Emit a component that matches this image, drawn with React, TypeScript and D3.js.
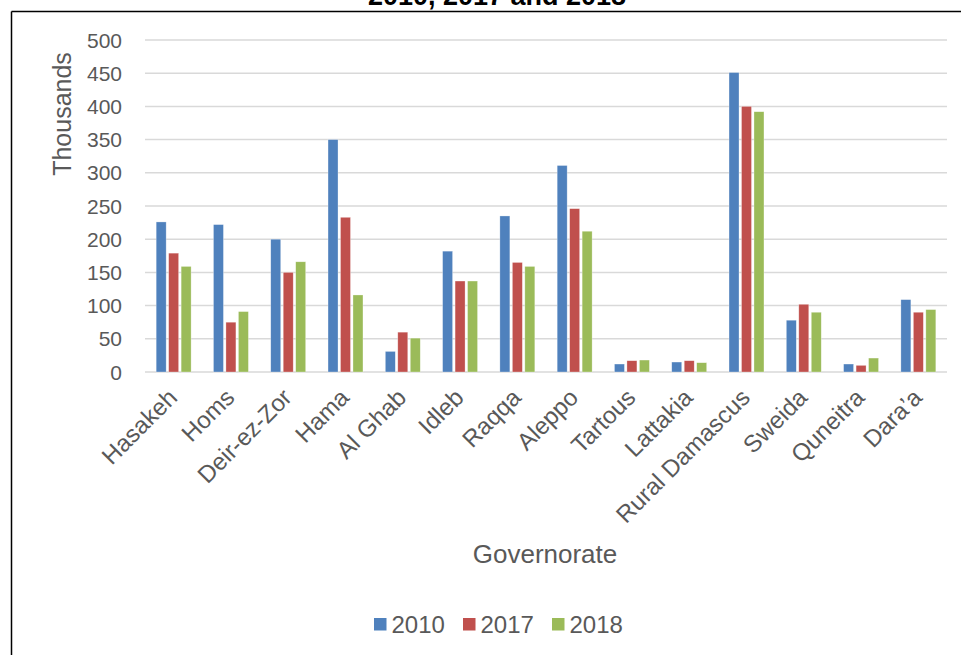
import React from "react";
import * as d3 from "d3";

const categories = ["Hasakeh", "Homs", "Deir-ez-Zor", "Hama", "Al Ghab", "Idleb", "Raqqa", "Aleppo", "Tartous", "Lattakia", "Rural Damascus", "Sweida", "Quneitra", "Dara\u2019a"];
const seriesNames = ["2010", "2017", "2018"];
const values2010 = [226, 222, 200, 350, 31, 182, 235, 311, 12, 15, 451, 78, 12, 109];
const values2017 = [179, 75, 150, 233, 60, 137, 165, 246, 17, 17, 400, 102, 10, 90];
const values2018 = [159, 91, 166, 116, 51, 137, 159, 212, 18, 14, 392, 90, 21, 94];
const yTicks = [0, 50, 100, 150, 200, 250, 300, 350, 400, 450, 500];
const colors = ["#4f81bd", "#c0504d", "#9bbb59"];
const titleLine = "2010, 2017 and 2018";
const yLabel = "Thousands";
const xLabel = "Governorate";

export default function App() {
  const W = 961, H = 655;
  const left = 145, right = 947, top = 40, bottom = 372;
  const x0 = d3.scaleBand<string>().domain(categories).range([left, right]).padding(0);
  const groupW = x0.bandwidth() * 0.61;
  const x1 = d3.scaleBand<string>().domain(seriesNames).range([0, groupW]).paddingInner(0.2).paddingOuter(0);
  const y = d3.scaleLinear().domain([0, 500]).range([bottom, top]);
  const series = [values2010, values2017, values2018];
  const font = "'Liberation Sans', Arial, sans-serif";
  const textColor = "#595959";

  return (
    <>
      <style>{`html,body{margin:0;padding:0;overflow:hidden;background:#fff}`}</style>
      <svg width={W} height={H} style={{ display: "block", overflow: "hidden" }} fontFamily={font}>
        <rect x={0} y={0} width={W} height={H} fill="#fff" />
        <text x={497} y={5} textAnchor="middle" fontWeight="bold" fontSize={27} fill="#000">{titleLine}</text>
        <line x1={11.5} x2={W} y1={11.5} y2={11.5} stroke="#000" strokeWidth={1.5} />
        <line x1={11.5} x2={11.5} y1={11.5} y2={H} stroke="#000" strokeWidth={1.5} />
        {yTicks.map((t) => (
          <g key={t}>
            <line x1={left} x2={right} y1={y(t)} y2={y(t)} stroke="#d9d9d9" strokeWidth={1.5} />
            <text x={122} y={y(t)} dy="0.36em" textAnchor="end" fontSize={21} fill={textColor}>{t}</text>
          </g>
        ))}
        {categories.map((c, i) => (
          <g key={c}>
            {series.map((vals, s) => {
              const bx = (x0(c) as number) + (x0.bandwidth() - groupW) / 2 + (x1(seriesNames[s]) as number);
              return (
                <rect key={s} x={bx} y={y(vals[i])} width={x1.bandwidth()} height={y(0) - y(vals[i])} fill={colors[s]} stroke="#ffffff" strokeOpacity={0.5} strokeWidth={0.6} />
              );
            })}
            <text transform={`translate(${(x0(c) as number) + x0.bandwidth() / 2 + 5},${399}) rotate(-45)`} textAnchor="end" fontSize={24} fill={textColor}>{c}</text>
          </g>
        ))}
        <text transform={`translate(71,114) rotate(-90)`} textAnchor="middle" fontSize={25} fill={textColor}>{yLabel}</text>
        <text x={545} y={563} textAnchor="middle" fontSize={26} fill={textColor}>{xLabel}</text>
        {seriesNames.map((n, s) => (
          <g key={n} transform={`translate(${374 + s * 89},618)`}>
            <rect x={0} y={0} width={12.5} height={12.5} fill={colors[s]} />
            <text x={17.5} y={15.3} fontSize={24} fill={textColor}>{n}</text>
          </g>
        ))}
      </svg>
    </>
  );
}
